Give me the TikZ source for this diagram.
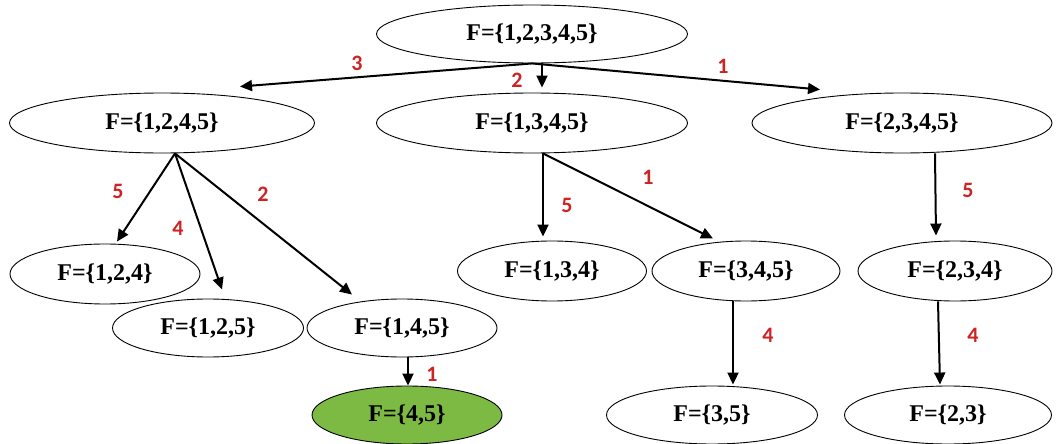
\documentclass[tikz,border=0pt]{standalone}
\usepackage{fontspec}
\setmainfont{Liberation Serif}
\newfontfamily\numfont{Carlito}
\usetikzlibrary{shapes.geometric,arrows.meta}
\definecolor{numred}{RGB}{205,35,35}
\definecolor{goalgreen}{RGB}{124,186,68}
\tikzset{
  set/.style={draw, ellipse, inner sep=0pt, line width=0.9pt,
    font=\fontsize{24}{26}\selectfont\bfseries},
  goal/.style={set, fill=goalgreen},
  arr/.style={line width=2pt, -{Triangle[length=12pt,width=11pt]}},
  num/.style={text=numred, font=\fontsize{22}{24}\selectfont\numfont\bfseries}
}
\begin{document}
\begin{tikzpicture}[x=1pt, y=-1pt]
	\useasboundingbox (0,0) rectangle (1061,444);

	% level 0
	\node [set, minimum width=311, minimum height=58] (root) at (532,34) {F=\{1,2,3,4,5\}};

	% level 1
	\node [set, minimum width=305, minimum height=60] (A) at (162,123) {F=\{1,2,4,5\}};
	\node [set, minimum width=311, minimum height=60] (B) at (532,123) {F=\{1,3,4,5\}};
	\node [set, minimum width=300, minimum height=60] (C) at (902,123) {F=\{2,3,4,5\}};

	% level 2
	\node [set, minimum width=190, minimum height=60] (D) at (105,274) {F=\{1,2,4\}};
	\node [set, minimum width=191, minimum height=58] (E) at (208,328) {F=\{1,2,5\}};
	\node [set, minimum width=190, minimum height=58] (Fn) at (402,328) {F=\{1,4,5\}};
	\node [set, minimum width=189, minimum height=60] (H) at (552,271) {F=\{1,3,4\}};
	\node [set, minimum width=188, minimum height=60] (I) at (746,271) {F=\{3,4,5\}};
	\node [set, minimum width=194, minimum height=60] (J) at (955,271) {F=\{2,3,4\}};

	% level 3
	\node [goal, minimum width=190, minimum height=58] (G) at (407,415) {F=\{4,5\}};
	\node [set, minimum width=211, minimum height=58] (K) at (712,415) {F=\{3,5\}};
	\node [set, minimum width=207, minimum height=58] (L) at (948,415) {F=\{2,3\}};

	% arrows
	\draw [arr] (root.south) -- ([xshift=78,yshift=6]A.north);
	\draw [arr] ([xshift=10]root.south) -- ([xshift=10,yshift=5]B.north);
	\draw [arr] (root.south) -- ([xshift=-82,yshift=3]C.north);

	\draw [arr] ([xshift=13]A.south) -- ([xshift=12,yshift=2]D.north);
	\draw [arr] ([xshift=13]A.south) -- ([xshift=14,yshift=9]E.north);
	\draw [arr] ([xshift=13]A.south) -- ([xshift=-50,yshift=4]Fn.north);
	\draw [arr] ([xshift=6]Fn.south) -- ([xshift=1]G.north);

	\draw [arr] ([xshift=11]B.south) -- ([xshift=-9,yshift=4]H.north);
	\draw [arr] ([xshift=11]B.south) -- ([xshift=-33,yshift=2]I.north);
	\draw [arr] ([xshift=-13]I.south) -- ([xshift=21,yshift=1]K.north);

	\draw [arr] ([xshift=33]C.south) -- ([xshift=-19,yshift=5]J.north);
	\draw [arr] ([xshift=-17]J.south) -- ([xshift=-8,yshift=1]L.north);

	% edge numbers
	\node [num] (n3) at (357,63) {3};
	\node [num] (n2) at (517,80) {2};
	\node [num] (n1) at (723,66) {1};
	\node [num] (n5a) at (118,191) {5};
	\node [num] (n4a) at (178,228) {4};
	\node [num] (n2a) at (263,194) {2};
	\node [num] (n1a) at (432,374) {1};
	\node [num] (n5b) at (567,205) {5};
	\node [num] (n1b) at (648,177) {1};
	\node [num] (n4b) at (768,335) {4};
	\node [num] (n5c) at (968,190) {5};
	\node [num] (n4c) at (973,335) {4};
\end{tikzpicture}
\end{document}
